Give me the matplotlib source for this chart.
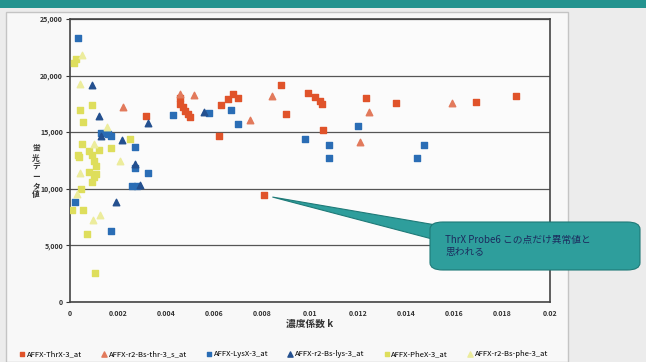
import matplotlib
matplotlib.use("Agg")
import matplotlib.pyplot as plt
from matplotlib.patches import FancyBboxPatch, Polygon, Rectangle
from matplotlib.ticker import FuncFormatter

plt.rcParams['font.family'] = ['Noto Sans CJK JP', 'DejaVu Sans']

# series
thrx_k = [0.00317, 0.0046, 0.0046, 0.0047, 0.0048, 0.0049, 0.0050, 0.0062, 0.0063,
          0.0066, 0.0068, 0.0070, 0.0081, 0.0088, 0.0090, 0.0099, 0.0102, 0.0104,
          0.0105, 0.01055, 0.01233, 0.0136, 0.0169, 0.0186]
thrx_v = [16400, 18000, 17500, 17200, 16900, 16600, 16300, 14700, 17400,
          17900, 18400, 18000, 9450, 19200, 16600, 18500, 18100, 17800,
          17500, 15200, 18000, 17550, 17650, 18200]

thr2_k = [0.0022, 0.0046, 0.00515, 0.0075, 0.0084, 0.0121, 0.01245, 0.0159]
thr2_v = [17200, 18400, 18300, 16100, 18200, 14100, 16800, 17550]

lysx_k = [0.00035, 0.0002, 0.0013, 0.0016, 0.0017, 0.0027, 0.0027, 0.00326, 0.0026,
          0.0028, 0.0017, 0.0043, 0.0058, 0.0067, 0.0070, 0.0098, 0.0108, 0.0108,
          0.0120, 0.01474, 0.01446]
lysx_v = [23300, 8860, 14900, 14800, 14700, 13700, 11800, 11400, 10250,
          10250, 6300, 16500, 16700, 17000, 15700, 14400, 13900, 12700,
          15550, 13850, 12700]

lys2_k = [0.0009, 0.00122, 0.00326, 0.0013, 0.00215, 0.0027, 0.0029, 0.0019, 0.0056]
lys2_v = [19200, 16400, 15800, 14700, 14300, 12200, 10300, 8860, 16800]

phex_k = [0.00025, 0.00018, 0.0009, 0.0004, 0.00053, 0.0005, 0.0025, 0.0017, 0.00035,
          0.0009, 0.0010, 0.0011, 0.0008, 0.0010, 0.0009, 0.00046, 0.00053, 0.0001,
          0.0007, 0.00104, 0.0012, 0.00038, 0.0008, 0.0011]
phex_v = [21500, 21100, 17400, 17000, 15900, 14000, 14400, 13600, 13000,
          13000, 12500, 12000, 11500, 11000, 10600, 10000, 8100, 8100,
          6000, 2600, 13400, 12800, 13300, 11300]

phe2_k = [0.00043, 0.00154, 0.0021, 0.0004, 0.00095, 0.00126, 0.0003, 0.0010, 0.0005]
phe2_v = [19300, 15500, 12500, 11400, 7250, 7700, 9500, 14000, 21800]

outlier = (0.0081, 9450)

fig = plt.figure(figsize=(6.46, 3.62), dpi=100)
fig.patch.set_facecolor('#ececec')

W, H = 646, 362
def fx(px):
    return px / W
def fy(py):
    return 1 - py / H

# chart area, teal band at the top
fig.patches.append(Rectangle((fx(6), 0), fx(568) - fx(6), fy(12), transform=fig.transFigure,
                             fc='#f8f8f8', ec='#c4c4c4', lw=1.0, zorder=-2))
fig.patches.append(Rectangle((0, fy(8)), 1, 8 / H, transform=fig.transFigure,
                             fc='#23938f', ec='none', zorder=-2))

ax = fig.add_axes([fx(70), fy(302), fx(550) - fx(70), fy(19) - fy(302)])
ax.set_facecolor('#fbfbfb')

ax.scatter(thrx_k, thrx_v, marker='s', s=19, c='#e0532a', label='AFFX-ThrX-3_at', zorder=3)
ax.scatter(thr2_k, thr2_v, marker='^', s=22, c='#e27a5c', label='AFFX-r2-Bs-thr-3_s_at', zorder=3)
ax.scatter(lysx_k, lysx_v, marker='s', s=19, c='#2a6db5', label='AFFX-LysX-3_at', zorder=3)
ax.scatter(lys2_k, lys2_v, marker='^', s=22, c='#24508f', label='AFFX-r2-Bs-lys-3_at', zorder=3)
ax.scatter(phex_k, phex_v, marker='s', s=19, c='#dede5c', label='AFFX-PheX-3_at', zorder=3)
ax.scatter(phe2_k, phe2_v, marker='^', s=22, c='#ecec9c', label='AFFX-r2-Bs-phe-3_at', zorder=3)

ax.set_xlim(0, 0.02)
ax.set_ylim(0, 25000)
ax.set_xticks([i * 0.002 for i in range(11)])
ax.set_xticklabels(['0', '0.002', '0.004', '0.006', '0.008', '0.01', '0.012',
                    '0.014', '0.016', '0.018', '0.02'])
ax.set_yticks(range(0, 25001, 5000))
ax.yaxis.set_major_formatter(FuncFormatter(lambda v, p: f'{int(v):,}'))
ax.grid(axis='y', color='#555555', lw=0.9)
ax.set_axisbelow(True)
for sp in ax.spines.values():
    sp.set_color('#444444')
    sp.set_linewidth(1.2)
ax.tick_params(axis='y', length=3, labelsize=5, colors='#333333', pad=2)
ax.tick_params(axis='x', length=0, labelsize=5, colors='#333333', pad=6)
for t in ax.get_xticklabels() + ax.get_yticklabels():
    t.set_fontweight('bold')

ax.set_xlabel('濃度係数 k', fontsize=7, fontweight='bold', color='#333333', labelpad=1)
fig.text(fx(36), fy(172), '\n'.join('蛍光データ値'), fontsize=5.5, fontweight='bold',
         color='#333333', ha='center', va='center', linespacing=1.0)

fig.legend(loc='center', bbox_to_anchor=(fx(284), fy(354)), ncol=6, fontsize=5.5,
           frameon=False, handlelength=0.6, handletextpad=0.3, columnspacing=2.6,
           markerscale=0.8)

# callout pointing at the outlier
teal = '#2e9e9c'
fig.canvas.draw()
tip = ax.transData.transform(outlier)
tip_px = (tip[0] + 8, H - tip[1] + 2)
tail = Polygon([(fx(tip_px[0]), fy(tip_px[1])), (fx(436), fy(225)), (fx(436), fy(240))],
               closed=True, transform=fig.transFigure, fc=teal, ec='#1f7a78', lw=0.8, zorder=5)
fig.patches.append(tail)
box = FancyBboxPatch((fx(430), fy(270)), fx(640) - fx(430), fy(222) - fy(270),
                     boxstyle='round,pad=0,rounding_size=0.02', transform=fig.transFigure,
                     fc=teal, ec='#1f7a78', lw=0.8, zorder=6)
fig.patches.append(box)
fig.text(fx(445), fy(246), 'ThrX Probe6 この点だけ異常値と\n思われる', fontsize=7,
         color='#1c2b5e', ha='left', va='center', linespacing=1.3, zorder=7)

fig.savefig('out.png', dpi=100, facecolor=fig.get_facecolor())
